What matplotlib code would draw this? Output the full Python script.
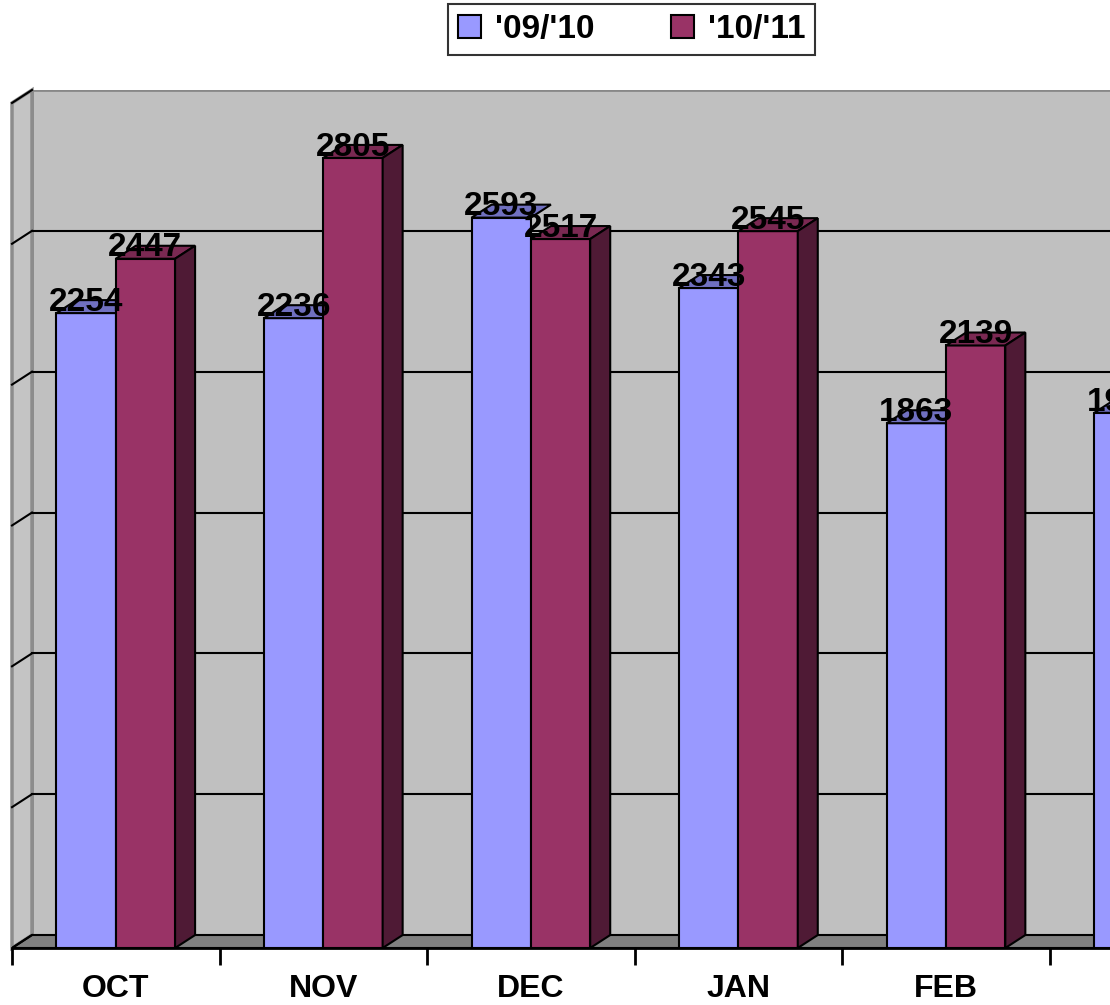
import numpy as np
import matplotlib
matplotlib.use("Agg")
import matplotlib.pyplot as plt
from matplotlib.patches import Polygon, Rectangle

months = ["OCT", "NOV", "DEC", "JAN", "FEB", "MAR"]
s0910 = [2254, 2236, 2593, 2343, 1863, 1900]
s1011 = [2447, 2805, 2517, 2545, 2139, np.nan]
series_names = ["'09/'10", "'10/'11"]

blue = "#9999FF"
blue_top = "#7070C0"
red = "#993366"
red_top = "#7A2952"
red_side = "#4F1A35"
wall = "#C0C0C0"
floor = "#808080"

plt.rcParams["font.family"] = ["Liberation Sans", "DejaVu Sans"]
plt.rcParams["font.weight"] = "bold"

fig = plt.figure(figsize=(11.1, 10.05), dpi=100)
ax = fig.add_axes([12 / 1110, 57 / 1005, 1098 / 1110, 858 / 1005])

x_lo, x_hi = -0.5, 4.79
y_top = 3046

# depth offset of the 3D look, in data units
dx = 20 / 207.5
dy = 46
w = 0.2857

# back wall, side wall, floor
ax.add_patch(Rectangle((x_lo + dx, dy), x_hi + 1 - (x_lo + dx), 3000, facecolor=wall,
                       edgecolor="#888888", lw=2, zorder=0))
ax.add_patch(Polygon([(x_lo, 0), (x_lo + dx, dy), (x_lo + dx, 3000 + dy), (x_lo, 3000)],
                     closed=True, facecolor="#C4C4C4", edgecolor="#8C8C8C", lw=2.5, zorder=1,
                     clip_on=False))
ax.add_patch(Polygon([(x_lo, 0), (x_hi + 1, 0), (x_hi + 1, dy), (x_lo + dx, dy)],
                     closed=True, facecolor=floor, edgecolor="black", lw=1.5, zorder=1))

# gridlines on back wall and side wall
for g in range(500, 3001, 500):
    if g < 3000:
        ax.plot([x_lo + dx, x_hi + 1], [g + dy, g + dy], color="black", lw=1.5, zorder=2)
    ax.plot([x_lo, x_lo + dx], [g, g + dy], color="black", lw=1.5, zorder=2, clip_on=False)
ax.plot([x_lo, x_lo + dx], [0, dy], color="black", lw=1.5, zorder=2)

x = np.arange(len(months))
z = 3
for i in range(len(months)):
    for k, (vals, fc, tc, sc) in enumerate([(s0910, blue, blue_top, None),
                                             (s1011, red, red_top, red_side)]):
        v = vals[i]
        if np.isnan(v):
            continue
        x0 = x[i] - w + k * w
        x1 = x0 + w
        ax.bar(x0, v, width=w, align="edge", color=fc, edgecolor="black", lw=1.5, zorder=z)
        ax.add_patch(Polygon([(x0, v), (x1, v), (x1 + dx, v + dy), (x0 + dx, v + dy)],
                             closed=True, facecolor=tc, edgecolor="black", lw=1.5, zorder=z))
        if sc is not None:
            ax.add_patch(Polygon([(x1, 0), (x1 + dx, dy), (x1 + dx, v + dy), (x1, v)],
                                 closed=True, facecolor=sc, edgecolor="black", lw=1.5, zorder=z))
        ax.text(x0 + w / 2, v + 8, f"{v:.0f}", ha="center", va="baseline",
                fontsize=24, fontweight="bold", zorder=100)
        z += 1

for s in ["top", "right", "left"]:
    ax.spines[s].set_visible(False)
ax.spines["bottom"].set_linewidth(2)
ax.spines["bottom"].set_zorder(50)
ax.set_yticks([])
ax.set_xticks(np.arange(-0.5, len(months), 1))
ax.set_xticklabels([])
ax.tick_params(axis="x", which="major", length=12, width=2, direction="out")
ax.set_xticks(x, minor=True)
ax.set_xticklabels(months, minor=True, fontsize=23, fontweight="bold")
ax.tick_params(axis="x", which="minor", length=0, pad=19)
ax.set_facecolor("white")

# limits last, since set_xticks widens the view
ax.set_xlim(x_lo, x_hi)
ax.set_ylim(0, y_top)

handles = [Rectangle((0, 0), 1, 1, facecolor=blue, edgecolor="black", lw=1.5),
           Rectangle((0, 0), 1, 1, facecolor=red, edgecolor="black", lw=1.5)]
leg = fig.legend(handles, series_names, loc="center", bbox_to_anchor=(0.569, 0.9706),
                 ncol=2, fancybox=False, frameon=True, edgecolor="black",
                 prop={"size": 24, "weight": "bold"}, handlelength=0.7, handleheight=0.7,
                 handletextpad=0.4, columnspacing=2.3, borderpad=0.3)
leg.get_frame().set_linewidth(1.5)

fig.savefig("out.png", dpi=100)
